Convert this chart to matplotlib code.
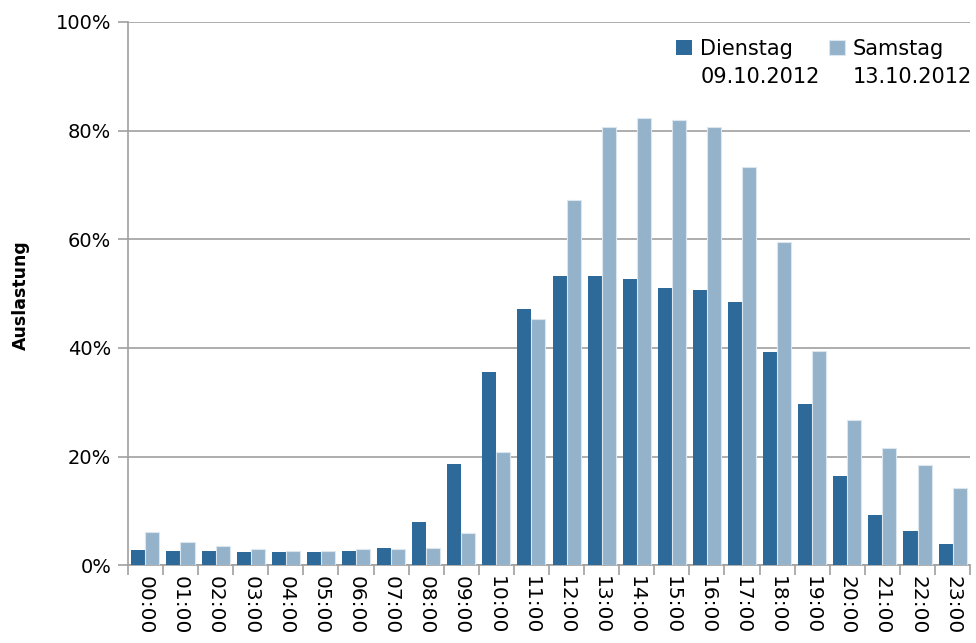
import numpy as np
import matplotlib
matplotlib.use("Agg")
import matplotlib.pyplot as plt
from matplotlib.ticker import FuncFormatter

# ---------------------------------
# Data
# ---------------------------------

hours = [f"{h:02d}:00" for h in range(24)]

dienstag = [2.8, 2.6, 2.6, 2.4, 2.4, 2.4, 2.7, 3.2, 7.9, 18.6, 35.5, 47.1,
            53.2, 53.2, 52.7, 51.0, 50.6, 48.4, 39.2, 29.7, 16.5, 9.3, 6.3, 3.9]

samstag = [6.1, 4.2, 3.5, 2.9, 2.7, 2.7, 2.9, 3.0, 3.2, 5.9, 20.8, 45.3,
           67.2, 80.7, 82.3, 82.0, 80.7, 73.3, 59.5, 39.4, 26.7, 21.6, 18.5, 14.3]

names = ["Dienstag", "Samstag"]
dates = ["09.10.2012", "13.10.2012"]

# ---------------------------------
# Plot
# ---------------------------------

plt.rcParams["font.family"] = ["DejaVu Sans"]

fig = plt.figure(figsize=(9.76, 6.43), dpi=100)
ax = fig.add_axes([0.131, 0.121, 0.863, 0.845])

x = np.arange(len(hours))
w = 0.4

ax.bar(x - w / 2, dienstag, width=w, color="#2E6A99", label=names[0], zorder=3)
ax.bar(x + w / 2, samstag, width=w, color="#94B3CB", edgecolor="#DCE6EE",
       linewidth=0.8, label=names[1], zorder=3)

ax.set_xlim(-0.5, len(hours) - 0.5)
ax.set_ylim(0, 100)
ax.set_yticks(range(0, 101, 20))
ax.yaxis.set_major_formatter(FuncFormatter(lambda v, p: f"{int(v)}%"))
ax.yaxis.grid(True, color="#A0A0A0", linewidth=1.2, zorder=0)

ax.set_xticks(x)
ax.set_xticklabels(hours, rotation=270, fontsize=14.5)
ax.set_xticks(np.arange(-0.5, len(hours), 1), minor=True)
ax.tick_params(axis="x", which="major", length=0, pad=8)
ax.tick_params(axis="x", which="minor", length=7, color="#A0A0A0", width=1.2)
ax.tick_params(axis="y", length=7, color="#A0A0A0", width=1.2, labelsize=14, pad=5)

for side in ["top", "right"]:
    ax.spines[side].set_visible(False)
for side in ["left", "bottom"]:
    ax.spines[side].set_color("#A0A0A0")
    ax.spines[side].set_linewidth(1.2)

ax.set_ylabel("Auslastung", fontsize=12.5, fontweight="bold")
ax.yaxis.set_label_coords(-0.116, 0.497)

leg = ax.legend(loc="upper right", ncol=2, frameon=False, fontsize=15,
                handlelength=0.75, handleheight=0.75, handletextpad=0.4,
                columnspacing=1.72, bbox_to_anchor=(0.989, 1.0),
                borderaxespad=0.4)

# second legend line (date) below each name
for txt, d in zip(leg.get_texts(), dates):
    ax.annotate(d, xy=(0, 0), xycoords=txt, xytext=(0, -6),
                textcoords="offset points", ha="left", va="top",
                fontsize=15, zorder=10, annotation_clip=False)

fig.savefig("out.png", dpi=100)
